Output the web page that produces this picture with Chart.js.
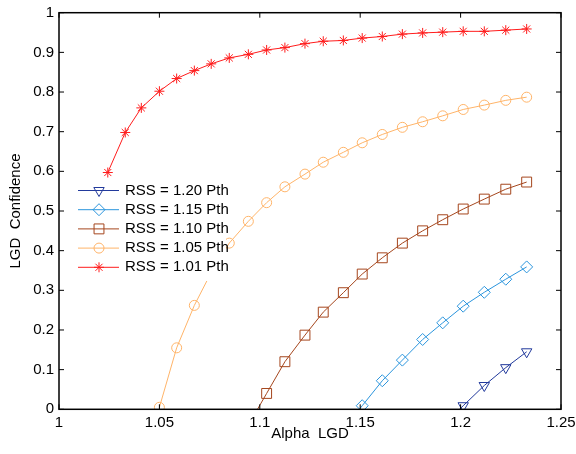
<!DOCTYPE html>
<html>
<head>
<meta charset="utf-8">
<script src="https://cdn.jsdelivr.net/npm/chart.js@4/dist/chart.umd.min.js"></script>
<style>
    html, body { margin: 0; padding: 0; background: #fff; }
</style>
</head>
<body>
<canvas id="chart" width="576" height="454"></canvas>
<script>
// x grid (Alpha LGD), shared by every curve
const alpha = [1.0243, 1.0330, 1.0410, 1.0500, 1.0586, 1.0674, 1.0758, 1.0848, 1.0943, 1.1034,
    1.1125, 1.1225, 1.1316, 1.1416, 1.1510, 1.1610, 1.1710, 1.1811, 1.1911, 1.2013,
    1.2118, 1.2225, 1.2329];

// LGD confidence per RSS level (null = not plotted)
const rss120 = [null, null, null, null, null, null, null, null, null, null,
    null, null, null, null, null, null, null, null, -0.041, 0.009,
    0.060, 0.105, 0.145];
const rss115 = [null, null, null, null, null, null, null, null, null, null,
    null, null, null, -0.050, 0.009, 0.072, 0.124, 0.176, 0.218, 0.260,
    0.295, 0.328, 0.359];
const rss110 = [null, null, null, null, null, null, null, null, -0.040, 0.040,
    0.120, 0.187, 0.245, 0.294, 0.341, 0.382, 0.419, 0.450, 0.478, 0.505,
    0.530, 0.555, 0.573];
const rss105 = [null, null, null, 0.005, 0.155, 0.262, 0.345, 0.419, 0.474, 0.521,
    0.561, 0.593, 0.623, 0.648, 0.672, 0.693, 0.711, 0.725, 0.740, 0.756,
    0.767, 0.779, 0.787];
const rss101 = [0.597, 0.698, 0.760, 0.802, 0.834, 0.854, 0.871, 0.886, 0.895, 0.906,
    0.912, 0.922, 0.928, 0.930, 0.936, 0.940, 0.946, 0.949, 0.951, 0.953,
    0.953, 0.956, 0.959];

const seriesNames = ['RSS = 1.20 Pth', 'RSS = 1.15 Pth', 'RSS = 1.10 Pth', 'RSS = 1.05 Pth', 'RSS = 1.01 Pth'];
const seriesValues = [rss120, rss115, rss110, rss105, rss101];

const xTicks = [1, 1.05, 1.1, 1.15, 1.2, 1.25];
const xTickLabels = ['1', '1.05', '1.1', '1.15', '1.2', '1.25'];
const yTicks = [0, 0.1, 0.2, 0.3, 0.4, 0.5, 0.6, 0.7, 0.8, 0.9, 1];
const yTickLabels = ['0', '0.1', '0.2', '0.3', '0.4', '0.5', '0.6', '0.7', '0.8', '0.9', '1'];

// styles
const seriesColors = ['#223a9c', '#2b95dd', '#a5461d', '#ffb469', '#ff1c1c'];
const markerStyles = ['triangle', 'rectRot', 'rect', 'circle', 'star'];
const markerRotation = [180, 0, 0, 0, 0];
const markerRadius = [6, 6, 7, 5, 5];

const FONT = '"Liberation Sans", Arial, Helvetica, sans-serif';

const datasets = seriesValues.map(function (vals, i) {
    const pts = [];
    vals.forEach(function (v, k) {
        if (v !== null) pts.push({ x: alpha[k], y: v });
    });
    return {
        label: seriesNames[i],
        data: pts,
        showLine: true,
        borderColor: seriesColors[i],
        borderWidth: 1,
        backgroundColor: 'rgba(0,0,0,0)',
        pointStyle: markerStyles[i],
        pointRotation: markerRotation[i],
        pointRadius: markerRadius[i],
        pointBorderWidth: 1,
        pointBorderColor: seriesColors[i],
        pointBackgroundColor: 'rgba(0,0,0,0)',
        tension: 0,
        clip: { left: 10, top: 10, right: 10, bottom: 0 }
    };
});

const framePlugin = {
    id: 'frame',
    afterDatasetsDraw: function (chart) {
        const ctx = chart.ctx;
        const a = chart.chartArea;
        const xs = chart.scales.x;
        const ys = chart.scales.y;
        ctx.save();

        // legend (white box, no border)
        ctx.fillStyle = '#fff';
        ctx.fillRect(74, 180, 152, 101);
        seriesNames.forEach(function (name, i) {
            const y = 190.5 + 19.2 * i;
            ctx.strokeStyle = seriesColors[i];
            ctx.lineWidth = 1;
            ctx.beginPath();
            ctx.moveTo(78, y);
            ctx.lineTo(119, y);
            ctx.stroke();
            ctx.fillStyle = 'rgba(0,0,0,0)';
            Chart.helpers.drawPoint(ctx, {
                pointStyle: markerStyles[i],
                rotation: markerRotation[i],
                radius: markerRadius[i],
                borderWidth: 1
            }, 99, y);
            ctx.fillStyle = '#000';
            ctx.font = '15px ' + FONT;
            ctx.textBaseline = 'middle';
            ctx.textAlign = 'left';
            ctx.fillText(name, 125, y);
        });

        // box
        ctx.strokeStyle = '#000';
        ctx.lineWidth = 1.5;
        ctx.strokeRect(a.left, a.top, a.right - a.left, a.bottom - a.top);

        // inward ticks on all four sides
        ctx.lineWidth = 1;
        ctx.beginPath();
        xTicks.forEach(function (v) {
            const px = xs.getPixelForValue(v);
            ctx.moveTo(px, a.bottom); ctx.lineTo(px, a.bottom - 5);
            ctx.moveTo(px, a.top); ctx.lineTo(px, a.top + 5);
        });
        yTicks.forEach(function (v) {
            const py = ys.getPixelForValue(v);
            ctx.moveTo(a.left, py); ctx.lineTo(a.left + 5, py);
            ctx.moveTo(a.right, py); ctx.lineTo(a.right - 5, py);
        });
        ctx.stroke();
        ctx.restore();
    }
};

new Chart(document.getElementById('chart').getContext('2d'), {
    type: 'scatter',
    data: { datasets: datasets },
    options: {
        responsive: false,
        animation: false,
        devicePixelRatio: 1,
        layout: { padding: { top: 12.7, right: 15, left: 0, bottom: 0 } },
        plugins: {
            legend: { display: false },
            tooltip: { enabled: false }
        },
        scales: {
            x: {
                type: 'linear',
                min: 1,
                max: 1.25,
                afterBuildTicks: function (s) { s.ticks = xTicks.map(function (v) { return { value: v }; }); },
                afterFit: function (s) {
                    s.height = 44.7;
                    s.paddingLeft = 0;
                    s.paddingRight = 0;
                },
                grid: { display: false, drawTicks: false },
                border: { display: false },
                ticks: {
                    color: '#000',
                    padding: 5,
                    maxRotation: 0,
                    autoSkip: false,
                    font: { size: 15, family: FONT },
                    callback: function (v, i) { return xTickLabels[i]; }
                },
                title: {
                    display: true,
                    text: 'Alpha  LGD',
                    color: '#000',
                    font: { size: 15, family: FONT },
                    padding: { top: 0, bottom: 11 }
                }
            },
            y: {
                type: 'linear',
                min: 0,
                max: 1,
                afterBuildTicks: function (s) { s.ticks = yTicks.map(function (v) { return { value: v }; }); },
                afterFit: function (s) {
                    s.width = 59;
                    s.paddingTop = 0;
                    s.paddingBottom = 0;
                },
                grid: { display: false, drawTicks: false },
                border: { display: false },
                ticks: {
                    color: '#000',
                    padding: 5,
                    autoSkip: false,
                    font: { size: 15, family: FONT },
                    callback: function (v, i) { return yTickLabels[i]; }
                },
                title: {
                    display: true,
                    text: 'LGD  Confidence',
                    color: '#000',
                    font: { size: 15, family: FONT },
                    padding: { top: 7, bottom: 0 }
                }
            }
        }
    },
    plugins: [framePlugin]
});
</script>
</body>
</html>
